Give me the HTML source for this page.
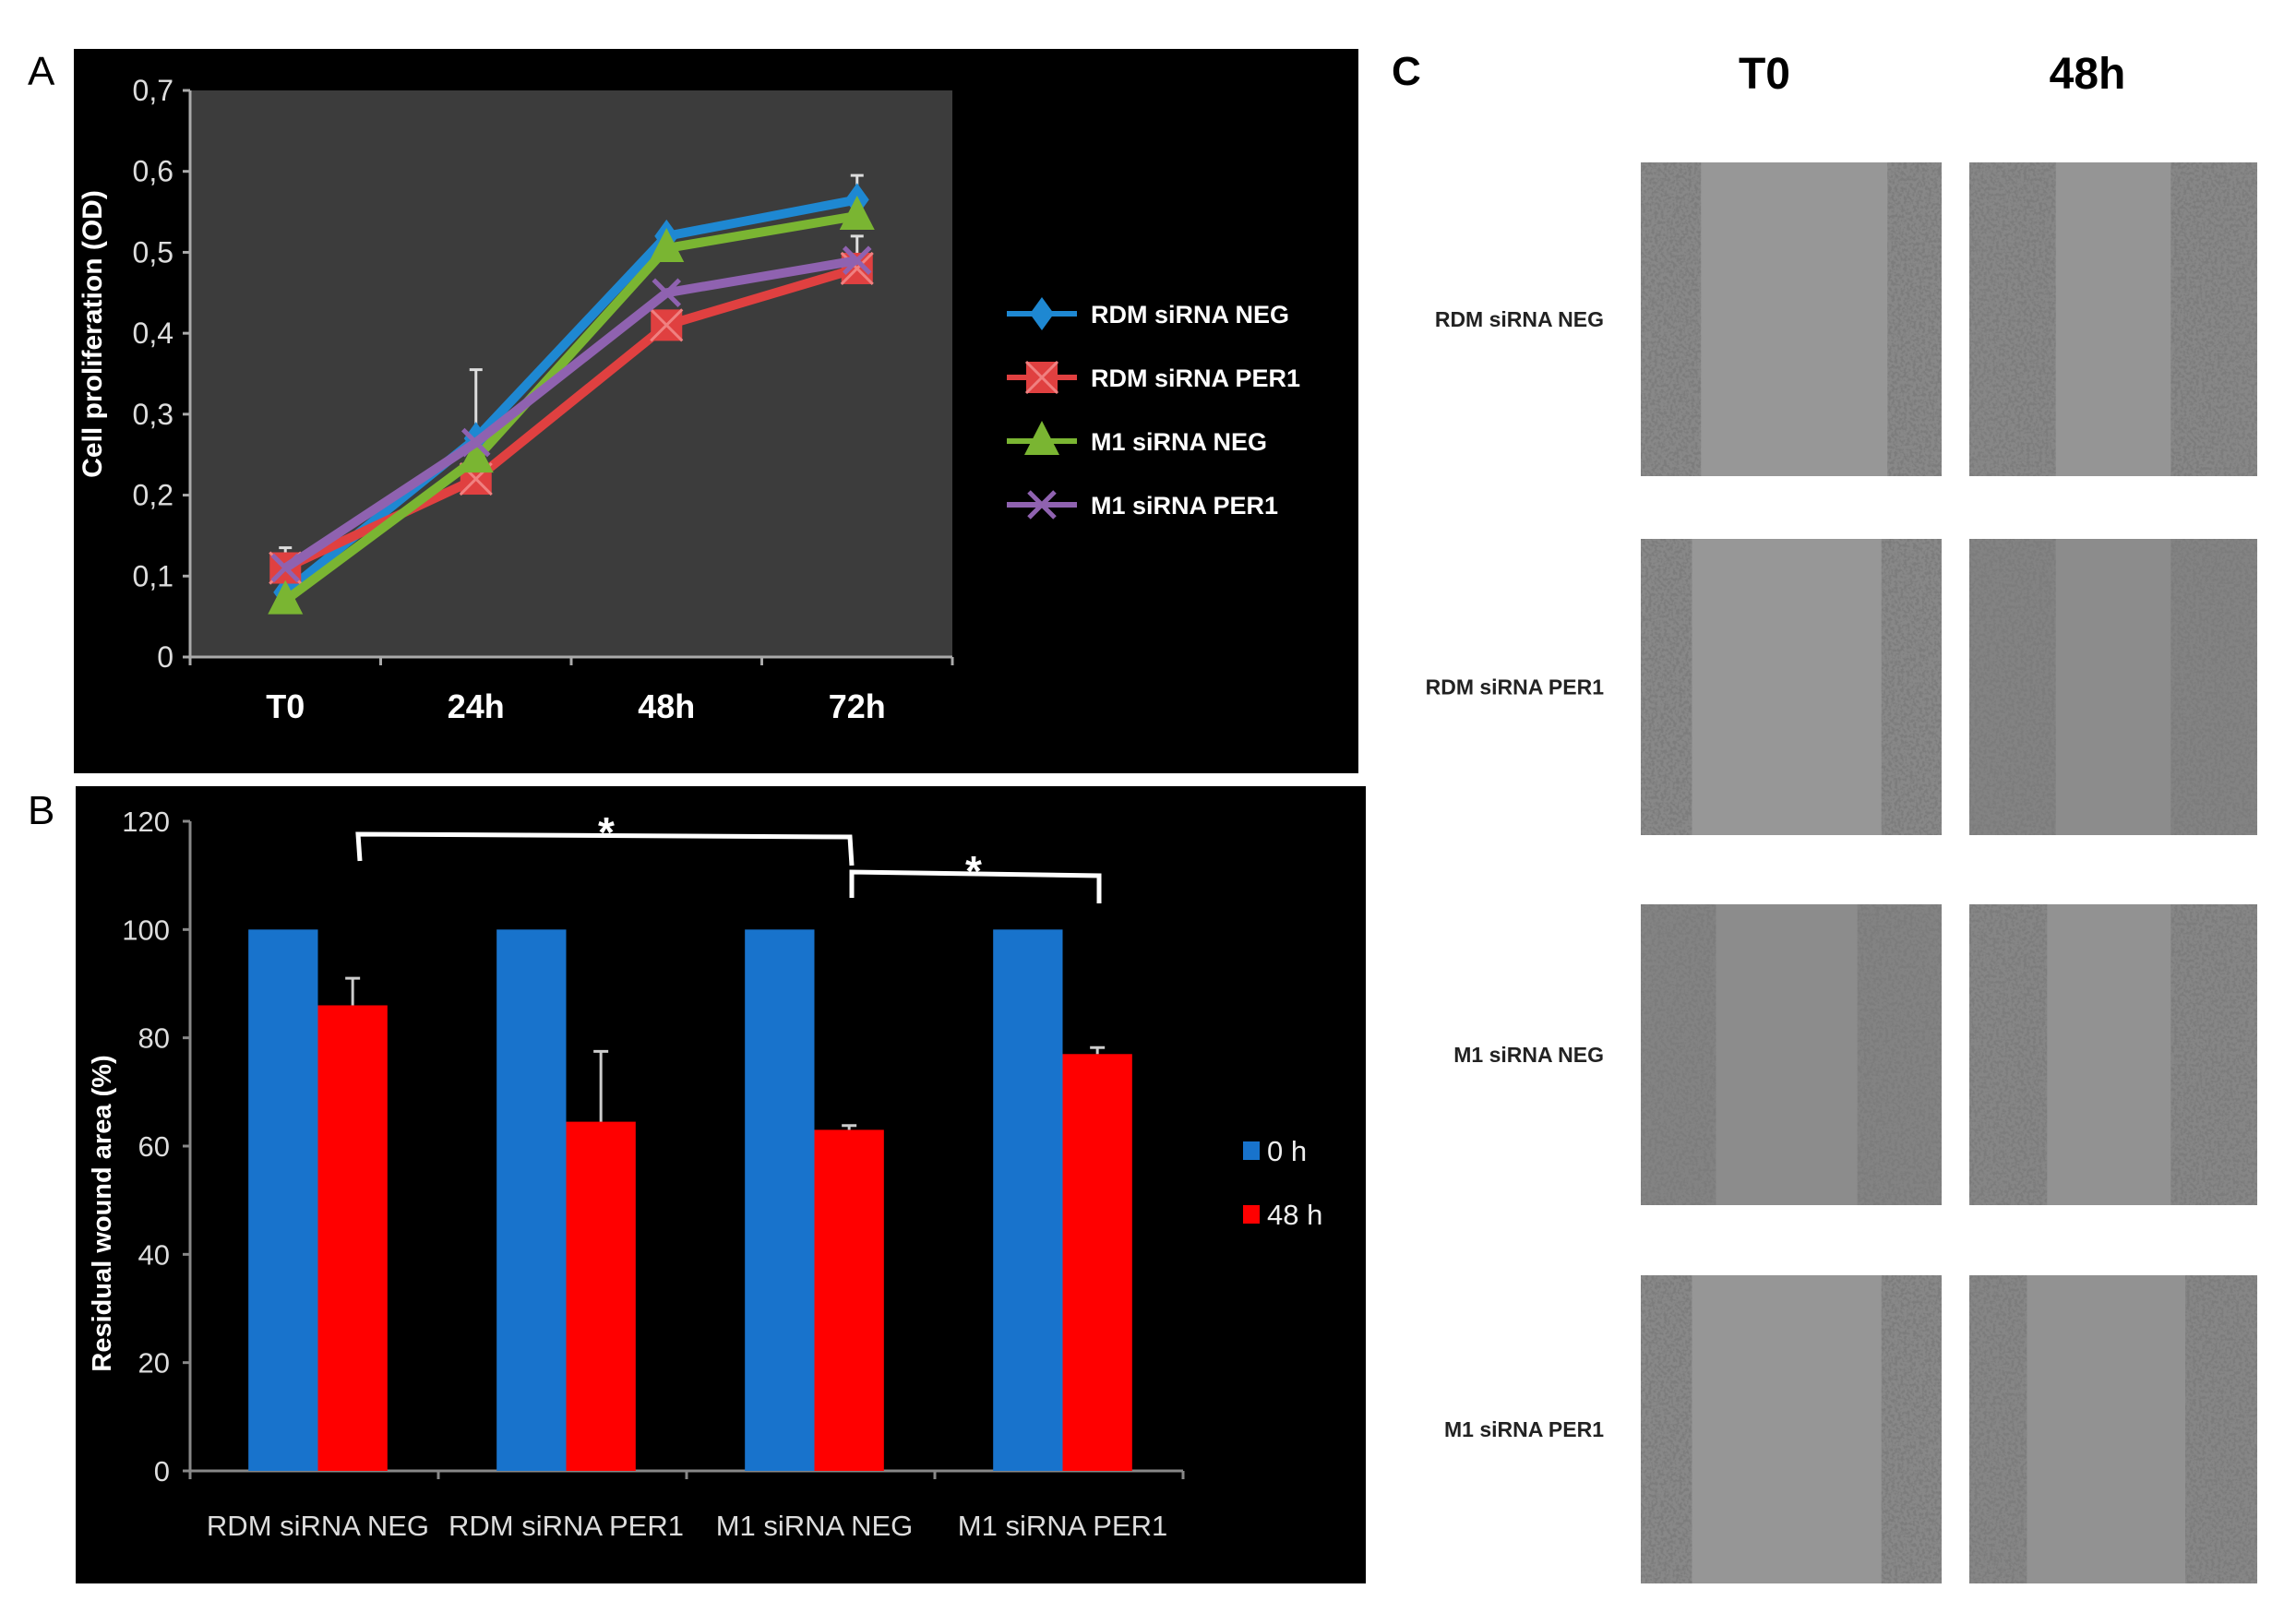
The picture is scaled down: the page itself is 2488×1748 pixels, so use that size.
<!DOCTYPE html>
<html><head><meta charset="utf-8"><style>
html,body{margin:0;padding:0;background:#fff;}
body{width:2488px;height:1748px;overflow:hidden;position:relative;font-family:"Liberation Sans",sans-serif;}
svg{position:absolute;left:0;top:0;}
</style></head><body>
<svg id="fig" width="2488" height="1748" viewBox="0 0 2488 1748" xmlns="http://www.w3.org/2000/svg">
<defs>
<filter id="tex" x="0" y="0" width="100%" height="100%">
<feTurbulence type="fractalNoise" baseFrequency="0.3" numOctaves="2" seed="3" result="n"/>
<feColorMatrix type="matrix" values="0 0 0 0 0.2  0 0 0 0 0.2  0 0 0 0 0.2  5 0 0 0 -2.2"/>
</filter>
</defs>
<g id="panelA"></g>
<g id="panelB"></g>
<g id="panelC"></g>
</svg>
<script>
const NS='http://www.w3.org/2000/svg';
// ---- Panel A data ----
const timeLabels=['T0','24h','48h','72h'];
const yTicksA=[0,0.1,0.2,0.3,0.4,0.5,0.6,0.7];
const seriesNames=['RDM siRNA NEG','RDM siRNA PER1','M1 siRNA NEG','M1 siRNA PER1'];
const rdmNeg=[0.08,0.27,0.52,0.565];
const rdmPer1=[0.11,0.22,0.41,0.48];
const m1Neg=[0.07,0.245,0.505,0.545];
const m1Per1=[0.11,0.265,0.45,0.49];
const rdmNegErr=[0,0.085,0,0.03];
const rdmPer1Err=[0.025,0,0,0.04];
// ---- Panel B data ----
const groupLabels=['RDM siRNA NEG','RDM siRNA PER1','M1 siRNA NEG','M1 siRNA PER1'];
const yTicksB=[0,20,40,60,80,100,120];
const wound0h=[100,100,100,100];
const wound48h=[86,64.5,63,77];
const wound48hErr=[5,13,0.8,1.2];

function el(tag,attrs,parent,text){const e=document.createElementNS(NS,tag);for(const k in attrs)e.setAttribute(k,attrs[k]);if(text!==undefined)e.textContent=text;parent.appendChild(e);return e;}

// ===== Panel A =====
const A=document.getElementById('panelA');
el('rect',{x:80,y:53,width:1392,height:785,fill:'#000'},A);
el('text',{x:30,y:92,'font-size':44,fill:'#000'},document.getElementById('fig'),'A');
const ax0=206,ax1=1032,ay0=712,ay1=98;
const xA=i=>ax0+(ax1-ax0)*(i+0.5)/timeLabels.length;
const yA=v=>ay0-(ay0-ay1)*v/0.7;
el('rect',{x:ax0,y:ay1,width:ax1-ax0,height:ay0-ay1,fill:'#3c3c3c'},A);
el('line',{x1:ax0,y1:ay1,x2:ax0,y2:ay0,stroke:'#aaa','stroke-width':3},A);
el('line',{x1:ax0,y1:ay0,x2:ax1,y2:ay0,stroke:'#aaa','stroke-width':3},A);
yTicksA.forEach(v=>{
  el('line',{x1:ax0-8,y1:yA(v),x2:ax0,y2:yA(v),stroke:'#aaa','stroke-width':3},A);
  const t=el('text',{x:ax0-18,y:yA(v)+11,'font-size':32,fill:'#ddd','text-anchor':'end'},A,String(v).replace('.',','));
  
});
for(let i=0;i<=timeLabels.length;i++){const x=ax0+(ax1-ax0)*i/timeLabels.length;el('line',{x1:x,y1:ay0,x2:x,y2:ay0+9,stroke:'#aaa','stroke-width':3},A);}
timeLabels.forEach((l,i)=>{const t=el('text',{x:xA(i),y:778,'font-size':36,'font-weight':'bold',fill:'#fff','text-anchor':'middle'},A,l);
  });
const yt=el('text',{x:0,y:0,'font-size':30,'font-weight':'bold',fill:'#fff','text-anchor':'middle',transform:'translate(110,362) rotate(-90)'},A,'Cell proliferation (OD)');

[[rdmNeg,rdmNegErr],[rdmPer1,rdmPer1Err]].forEach(([s,e])=>{s.forEach((v,i)=>{if(e[i]>0){
  el('line',{x1:xA(i),y1:yA(v),x2:xA(i),y2:yA(v+e[i]),stroke:'#ddd','stroke-width':3},A);
  el('line',{x1:xA(i)-7,y1:yA(v+e[i]),x2:xA(i)+7,y2:yA(v+e[i]),stroke:'#ddd','stroke-width':3},A);}})});
const colors=['#1e88d2','#e04040','#7ab532','#8f62b0'];
const allSeries=[rdmNeg,rdmPer1,m1Neg,m1Per1];
function marker(kind,x,y,c,g){
  if(kind===0)el('polygon',{points:`${x},${y-18} ${x+13},${y} ${x},${y+18} ${x-13},${y}`,fill:c},g);
  else if(kind===1){el('rect',{x:x-17,y:y-17,width:34,height:34,fill:c},g);el('path',{d:`M${x-17} ${y-17}L${x+17} ${y+17}M${x+17} ${y-17}L${x-17} ${y+17}`,stroke:'#f08080','stroke-width':3},g);}
  else if(kind===2)el('polygon',{points:`${x},${y-22} ${x+19},${y+15} ${x-19},${y+15}`,fill:c},g);
  else el('path',{d:`M${x-14} ${y-14}L${x+14} ${y+14}M${x+14} ${y-14}L${x-14} ${y+14}`,stroke:c,'stroke-width':5},g);
}
[0,1,2,3].forEach(k=>{
  const s=allSeries[k];const g=el('g',{},A);
  
  el('polyline',{points:s.map((v,i)=>xA(i)+','+yA(v)).join(' '),fill:'none',stroke:colors[k],'stroke-width':10,'stroke-linejoin':'round'},g);
  s.forEach((v,i)=>marker(k,xA(i),yA(v),colors[k],g));
});
seriesNames.forEach((n,k)=>{const y=340+k*69;const g=el('g',{},A);
  
  el('line',{x1:1091,y1:y,x2:1167,y2:y,stroke:colors[k],'stroke-width':6},g);
  marker(k,1129,y,colors[k],g);
  el('text',{x:1182,y:y+10,'font-size':27,'font-weight':'bold',fill:'#fff'},g,n);
});

// ===== Panel B =====
const B=document.getElementById('panelB');
el('rect',{x:82,y:852,width:1398,height:864,fill:'#000'},B);
el('text',{x:30,y:893,'font-size':44,fill:'#000'},document.getElementById('fig'),'B');
const bx0=206,bx1=1282,by0=1594,by1=890;
const gw=(bx1-bx0)/groupLabels.length,bw=gw*0.28;
const yB=v=>by0-(by0-by1)*v/120;
const gc=i=>bx0+gw*(i+0.5)+4;
el('line',{x1:bx0,y1:by1,x2:bx0,y2:by0,stroke:'#888','stroke-width':3},B);
el('line',{x1:bx0,y1:by0,x2:bx1,y2:by0,stroke:'#888','stroke-width':3},B);
yTicksB.forEach(v=>{el('line',{x1:bx0-8,y1:yB(v),x2:bx0,y2:yB(v),stroke:'#888','stroke-width':3},B);
  const t=el('text',{x:bx0-22,y:yB(v)+11,'font-size':31,fill:'#ddd','text-anchor':'end'},B,String(v));
  });
for(let i=0;i<=groupLabels.length;i++){const x=bx0+gw*i;el('line',{x1:x,y1:by0,x2:x,y2:by0+9,stroke:'#888','stroke-width':3},B);}
groupLabels.forEach((l,i)=>{
  const b1=el('rect',{x:gc(i)-bw,y:yB(wound0h[i]),width:bw,height:by0-yB(wound0h[i]),fill:'#1873cc'},B);
  
  const b2=el('rect',{x:gc(i),y:yB(wound48h[i]),width:bw,height:by0-yB(wound48h[i]),fill:'#ff0000'},B);
  
  const ex=gc(i)+bw/2,top=yB(wound48h[i]+wound48hErr[i]);
  el('line',{x1:ex,y1:yB(wound48h[i]),x2:ex,y2:top,stroke:'#ccc','stroke-width':3},B);
  el('line',{x1:ex-8,y1:top,x2:ex+8,y2:top,stroke:'#ccc','stroke-width':3},B);
  const t=el('text',{x:gc(i),y:1664,'font-size':31,fill:'#ddd','text-anchor':'middle'},B,l);
  
});
const yt2=el('text',{x:0,y:0,'font-size':29,'font-weight':'bold',fill:'#fff','text-anchor':'middle',transform:'translate(120,1315) rotate(-90)'},B,'Residual wound area (%)');

el('path',{d:'M390 933 L388 904 L921 907 L923 938',fill:'none',stroke:'#fff','stroke-width':5},B);
el('text',{x:657,y:918,'font-size':46,'font-weight':'bold',fill:'#fff','text-anchor':'middle'},B,'*');
el('path',{d:'M923 973 L923 945 L1191 949 L1191 979',fill:'none',stroke:'#fff','stroke-width':5},B);
el('text',{x:1055,y:960,'font-size':46,'font-weight':'bold',fill:'#fff','text-anchor':'middle'},B,'*');
[['0 h','#1873cc',1247],['48 h','#ff0000',1316]].forEach(([l,c,y])=>{const g=el('g',{},B);
  
  el('rect',{x:1347,y:y-10,width:18,height:20,fill:c},g);
  el('text',{x:1373,y:y+11,'font-size':31,fill:'#eee'},g,l);});

// ===== Panel C =====
const C=document.getElementById('panelC');
el('text',{x:1508,y:92,'font-size':44,'font-weight':'bold',fill:'#000'},C,'C');
el('text',{x:1912,y:96,'font-size':48,'font-weight':'bold',fill:'#000','text-anchor':'middle'},C,'T0');
el('text',{x:2262,y:96,'font-size':48,'font-weight':'bold',fill:'#000','text-anchor':'middle'},C,'48h');
const rowLabels=['RDM siRNA NEG','RDM siRNA PER1','M1 siRNA NEG','M1 siRNA PER1'];
const rows=[[176,516],[584,905],[980,1306],[1382,1716]];
const cols=[[1778,2104],[2134,2446]];
const bands=[[[0.2,0.18],[0.3,0.3]],[[0.17,0.2],[0.3,0.3]],[[0.25,0.28],[0.27,0.3]],[[0.17,0.2],[0.2,0.25]]];
const shades=[['#979797','#959595'],['#979797','#8c8c8c'],['#8c8c8c','#929292'],['#969696','#929292']];
rows.forEach(([y0,y1],r)=>{
  const t=el('text',{x:1738,y:(y0+y1)/2+8,'font-size':23,'font-weight':'bold',fill:'#222','text-anchor':'end'},C,rowLabels[r]);
  
  cols.forEach(([x0,x1],c)=>{
    const g=el('g',{},C);
    const w=x1-x0,h=y1-y0;
    el('rect',{x:x0,y:y0,width:w,height:h,fill:shades[r][c]},g);
    const [lb,rb]=bands[r][c];
    el('rect',{x:x0,y:y0,width:w*lb,height:h,fill:'#7a7a7a',opacity:0.5},g);
    el('rect',{x:x1-w*rb,y:y0,width:w*rb,height:h,fill:'#7a7a7a',opacity:0.5},g);
    const cp='cp'+r+c;const cl=el('clipPath',{id:cp},g);
    el('rect',{x:x0,y:y0,width:w*lb,height:h},cl);el('rect',{x:x1-w*rb,y:y0,width:w*rb,height:h},cl);
    el('rect',{x:x0,y:y0,width:w,height:h,filter:'url(#tex)','clip-path':'url(#'+cp+')',opacity:0.9},g);
  });
});
</script>
</body></html>
